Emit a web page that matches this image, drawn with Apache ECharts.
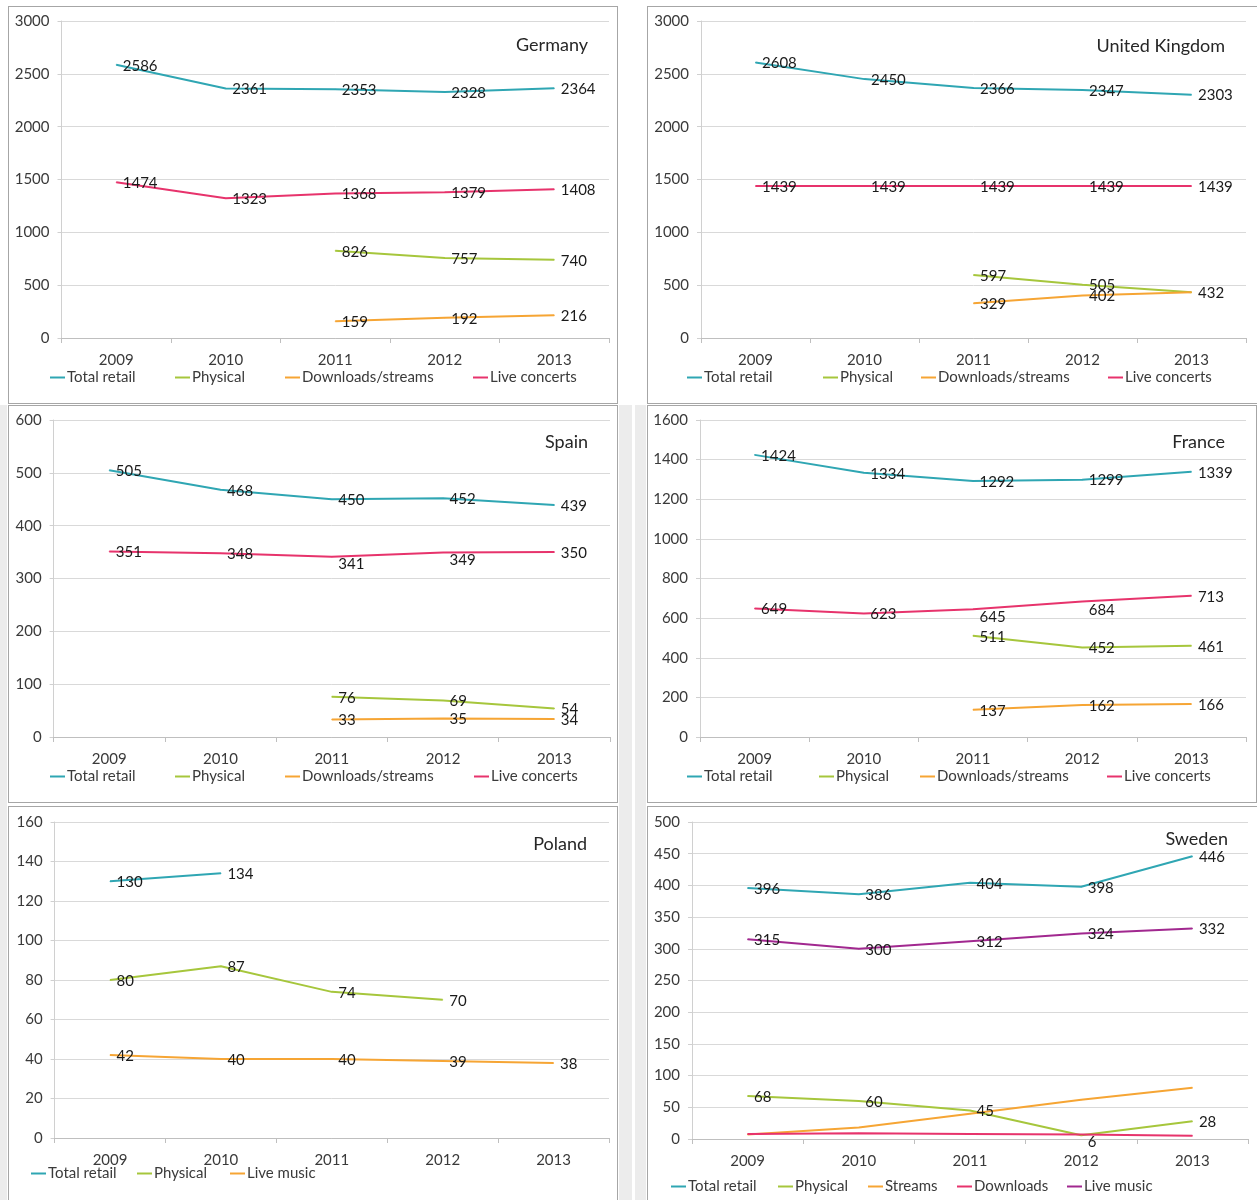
<!DOCTYPE html>
<html><head><meta charset="utf-8">
<script src="https://cdn.jsdelivr.net/npm/echarts@6/dist/echarts.min.js"></script>
<style>
html,body{margin:0;padding:0;background:#fff;}
#wrap{position:relative;width:1257px;height:1200px;overflow:hidden;}
.box{position:absolute;background:#fff;border:1px solid #a6a6a6;box-sizing:border-box;}
.strip{position:absolute;background:#ececec;}
#chart{position:absolute;left:0;top:0;width:1257px;height:1200px;}
</style></head>
<body><div id="wrap">
<div class="strip" style="left:0;top:405px;width:7px;height:795px"></div>
<div class="strip" style="left:619px;top:405px;width:13px;height:795px"></div>
<div class="strip" style="left:635px;top:405px;width:11px;height:795px"></div>
<div class="box" style="left:8px;top:6px;width:610px;height:398px"></div>
<div class="box" style="left:647px;top:6px;width:614px;height:398px"></div>
<div class="box" style="left:8px;top:405px;width:610px;height:398px"></div>
<div class="box" style="left:647px;top:405px;width:610px;height:398px"></div>
<div class="box" style="left:8px;top:806px;width:610px;height:400px"></div>
<div class="box" style="left:647px;top:806px;width:614px;height:400px"></div>
<div id="chart"></div>
</div>
<script>
// ---- data ----
const years = ['2009', '2010', '2011', '2012', '2013'];

const germanyTotal = [2586, 2361, 2353, 2328, 2364];
const germanyPhysical = [null, null, 826, 757, 740];
const germanyDownloads = [null, null, 159, 192, 216];
const germanyLive = [1474, 1323, 1368, 1379, 1408];

const ukTotal = [2608, 2450, 2366, 2347, 2303];
const ukPhysical = [null, null, 597, 505, 432];
const ukDownloads = [null, null, 329, 402, 432];
const ukLive = [1439, 1439, 1439, 1439, 1439];

const spainTotal = [505, 468, 450, 452, 439];
const spainPhysical = [null, null, 76, 69, 54];
const spainDownloads = [null, null, 33, 35, 34];
const spainLive = [351, 348, 341, 349, 350];

const franceTotal = [1424, 1334, 1292, 1299, 1339];
const francePhysical = [null, null, 511, 452, 461];
const franceDownloads = [null, null, 137, 162, 166];
const franceLive = [649, 623, 645, 684, 713];

const polandTotal = [130, 134, null, null, null];
const polandPhysical = [80, 87, 74, 70, null];
const polandLive = [42, 40, 40, 39, 38];

const swedenTotal = [396, 386, 404, 398, 446];
const swedenPhysical = [68, 60, 45, 6, 28];
const swedenStreams = [7, 18, 40, 62, 81];
const swedenDownloads = [8, 9, 8, 7, 5];
const swedenLive = [315, 300, 312, 324, 332];

const titles = ['Germany', 'United Kingdom', 'Spain', 'France', 'Poland', 'Sweden'];
const yMax = [3000, 3000, 600, 1600, 160, 500];
const yStep = [500, 500, 100, 200, 20, 50];

// ---- styles / layout ----
const FONT = 'Lato, "Open Sans", sans-serif';
const C = { teal: '#2fa6b3', green: '#a6c63c', orange: '#f6a534', pink: '#e7336c', purple: '#a1288f' };

const panels = [
  { grid: { left: 61.5, top: 21, width: 547.5, height: 317 }, titleRight: 669, titleTop: 36,
    legendTop: 370, series: [
      { name: 'Total retail', data: germanyTotal, color: C.teal, lx: 50 },
      { name: 'Physical', data: germanyPhysical, color: C.green, lx: 175 },
      { name: 'Downloads/streams', data: germanyDownloads, color: C.orange, lx: 285 },
      { name: 'Live concerts', data: germanyLive, color: C.pink, lx: 473 }] },
  { grid: { left: 701, top: 21, width: 545, height: 317 }, titleRight: 32, titleTop: 37,
    legendTop: 370, series: [
      { name: 'Total retail', data: ukTotal, color: C.teal, lx: 687 },
      { name: 'Physical', data: ukPhysical, color: C.green, lx: 823 },
      { name: 'Downloads/streams', data: ukDownloads, color: C.orange, lx: 921, labelHide: [4] },
      { name: 'Live concerts', data: ukLive, color: C.pink, lx: 1108 }] },
  { grid: { left: 53.6, top: 420, width: 556.4, height: 317 }, titleRight: 669, titleTop: 433,
    legendTop: 769, series: [
      { name: 'Total retail', data: spainTotal, color: C.teal, lx: 50 },
      { name: 'Physical', data: spainPhysical, color: C.green, lx: 175 },
      { name: 'Downloads/streams', data: spainDownloads, color: C.orange, lx: 285 },
      { name: 'Live concerts', data: spainLive, color: C.pink, lx: 474, labelDown: { 2: 6, 3: 7 } }] },
  { grid: { left: 700, top: 420, width: 546, height: 317 }, titleRight: 32, titleTop: 433,
    legendTop: 769, series: [
      { name: 'Total retail', data: franceTotal, color: C.teal, lx: 687 },
      { name: 'Physical', data: francePhysical, color: C.green, lx: 819 },
      { name: 'Downloads/streams', data: franceDownloads, color: C.orange, lx: 920 },
      { name: 'Live concerts', data: franceLive, color: C.pink, lx: 1107, labelDown: { 2: 7, 3: 8 } }] },
  { grid: { left: 54.6, top: 822, width: 554.4, height: 316 }, titleRight: 670, titleTop: 835,
    legendTop: 1166, series: [
      { name: 'Total retail', data: polandTotal, color: C.teal, lx: 31 },
      { name: 'Physical', data: polandPhysical, color: C.green, lx: 137 },
      { name: 'Live music', data: polandLive, color: C.orange, lx: 230 }] },
  { grid: { left: 692, top: 822, width: 556, height: 317 }, titleRight: 29, titleTop: 830,
    legendTop: 1179, series: [
      { name: 'Total retail', data: swedenTotal, color: C.teal, lx: 671 },
      { name: 'Physical', data: swedenPhysical, color: C.green, lx: 778, labelDown: { 3: 6 } },
      { name: 'Streams', data: swedenStreams, color: C.orange, lx: 868, noLabel: true },
      { name: 'Downloads', data: swedenDownloads, color: C.pink, lx: 957, noLabel: true },
      { name: 'Live music', data: swedenLive, color: C.purple, lx: 1067 }] }
];

const option = { animation: false, backgroundColor: 'transparent',
  grid: [], xAxis: [], yAxis: [], series: [], legend: [], title: [] };

panels.forEach((p, i) => {
  option.grid.push(p.grid);
  option.title.push({ text: titles[i], right: p.titleRight, top: p.titleTop, padding: 0,
    textStyle: { fontFamily: FONT, fontSize: 18, fontWeight: 'normal', color: '#262626' } });
  option.xAxis.push({ type: 'category', gridIndex: i, data: years, boundaryGap: true,
    axisLine: { show: true, lineStyle: { color: '#bfbfbf', width: 1 } },
    axisTick: { show: true, length: 5, lineStyle: { color: '#bfbfbf' } },
    axisLabel: { fontFamily: FONT, fontSize: 15, color: '#3a3a3a', margin: 15 },
    splitLine: { show: false } });
  option.yAxis.push({ type: 'value', gridIndex: i, min: 0, max: yMax[i], interval: yStep[i],
    axisLine: { show: true, lineStyle: { color: '#d0d0d0' } },
    axisTick: { show: true, length: 4, lineStyle: { color: '#d0d0d0' } },
    axisLabel: { fontFamily: FONT, fontSize: 15, color: '#3a3a3a', margin: 12,
      formatter: v => String(v) },
    splitLine: { show: true, lineStyle: { color: '#d9d9d9', width: 1 } } });
  p.series.forEach(s => {
    const data = s.data.map((v, k) => {
      const down = s.labelDown && s.labelDown[k];
      const hide = s.labelHide && s.labelHide.indexOf(k) >= 0;
      if (!down && !hide) return v;
      const item = { value: v, label: {} };
      if (down) item.label.offset = [0, 1 + down];
      if (hide) item.label.show = false;
      return item;
    });
    option.series.push({ type: 'line', name: s.name, xAxisIndex: i, yAxisIndex: i,
      data: data, symbol: 'circle', symbolSize: 1, showSymbol: true, connectNulls: false,
      lineStyle: { color: s.color, width: 2 }, itemStyle: { color: s.color },
      label: { show: !s.noLabel, position: 'right', distance: 6, offset: [0, 1],
        fontFamily: FONT, fontSize: 15, color: '#1a1a1a' } });
    option.legend.push({ left: s.lx, top: p.legendTop, padding: 0, selectedMode: false,
      icon: 'rect', itemWidth: 15, itemHeight: 2,
      data: [{ name: s.name, itemStyle: { color: s.color } }],
      textStyle: { fontFamily: FONT, fontSize: 15, color: '#3a3a3a', padding: [0, 0, 0, -3] } });
  });
});

const chart = echarts.init(document.getElementById('chart'), null, { renderer: 'canvas' });
chart.setOption(option);
</script>
</body></html>
